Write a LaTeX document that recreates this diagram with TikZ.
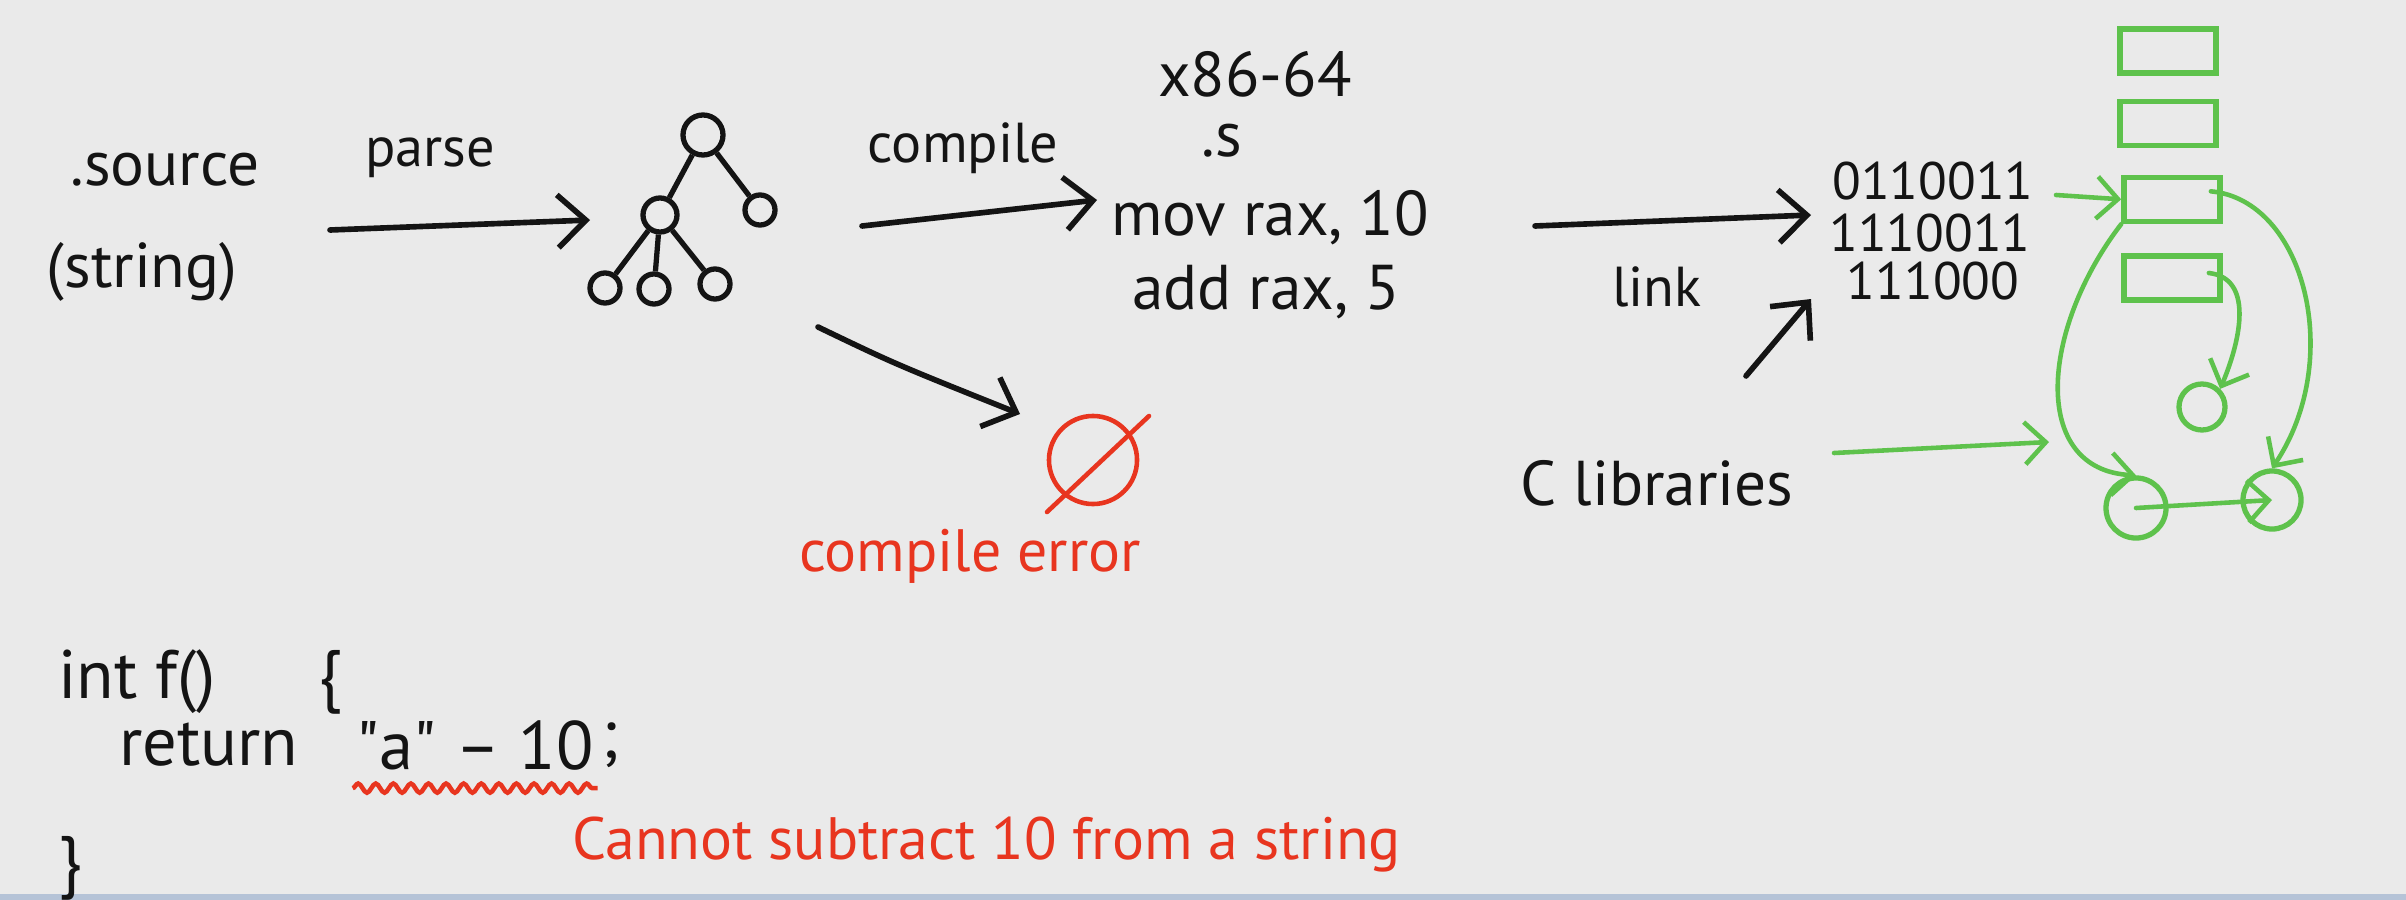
\documentclass[tikz,border=0pt]{standalone}
\usepackage{fontspec}
\setmainfont{PT Sans}
\usetikzlibrary{arrows.meta, positioning, calc, decorations.pathmorphing}
\definecolor{board}{HTML}{EAEAEA}
\definecolor{ink}{HTML}{141414}
\definecolor{redink}{HTML}{E8351F}
\definecolor{greenink}{HTML}{5EC24C}
\definecolor{taskbar}{HTML}{B5C3D7}

\begin{document}
\begin{tikzpicture}[
    x=0.01cm, y=-0.01cm,
    every node/.style={font=\fontsize{18}{22}\selectfont, text=ink, inner sep=1pt},
    lbl/.style={font=\fontsize{16}{19}\selectfont},
    bits/.style={font=\fontsize{15}{18}\selectfont},
    codetxt/.style={font=\fontsize{19.5}{23}\selectfont},
    redtxt/.style={text=redink, font=\fontsize{17}{20}\selectfont},
    tnode/.style={circle, draw=ink, line width=1.5pt, minimum size=0.3cm, inner sep=0pt},
    edge/.style={draw=ink, line width=1.5pt},
    flow/.style={-{Straight Barb[length=8pt, width=15pt, line width=1.6pt]},
        line width=1.6pt, ink, line cap=round},
    gflow/.style={-{Straight Barb[length=6pt, width=12pt, line width=1.3pt]},
        line width=1.3pt, greenink, line cap=round},
    gbox/.style={draw=greenink, line width=1.6pt, minimum width=0.96cm,
        minimum height=0.44cm, inner sep=0pt},
    gcirc/.style={circle, draw=greenink, line width=1.5pt, inner sep=0pt},
]

% ===== Board =====
\fill[board] (0,0) rectangle (2406,900);
\fill[taskbar] (0,894) rectangle (2406,900);
\useasboundingbox (0,0) rectangle (2406,900);

% ===== Source =====
\node (src) at (165,170) {.source};
\node (srcs) at (142,272) {(string)};
\node[lbl] (parselbl) at (430,158) {parse};

% ===== Tree =====
\node[tnode, minimum size=0.4cm] (treeA) at (703,135) {};
\node[tnode, minimum size=0.34cm] (treeB) at (660,215) {};
\node[tnode] (treeC) at (760,210) {};
\node[tnode] (treeD) at (605,288) {};
\node[tnode] (treeE) at (654,289) {};
\node[tnode] (treeF) at (715,284) {};
\draw[edge] (treeA) -- (treeB);
\draw[edge] (treeA) -- (treeC);
\draw[edge] (treeB) -- (treeD);
\draw[edge] (treeB) -- (treeE);
\draw[edge] (treeB) -- (treeF);

\draw[flow] ($(src)+(165,60)$) -- ($(treeB)+(-70,5)$);

% ===== Assembly =====
\node[lbl] (complbl) at (963,148) {compile};
\node (x86) at (1255,74) {x86-64};
\node (dots) at (1222,141) {.s};
\node (mov) at (1270,218) {mov rax, 10};
\node (add) at (1266,292) {add rax, 5};

\draw[flow] ($(treeC)+(102,16)$) -- ($(mov)+(-173,-18)$);

% ===== Compile error =====
\node[circle, draw=redink, line width=1.3pt, minimum size=0.88cm] (nullset) at (1093,460) {};
\draw[redink, line width=1.3pt, line cap=round]
    ($(nullset)+(-46,52)$) -- ($(nullset)+(56,-44)$);
\node[redtxt] (errlbl) at (970,556) {compile error};
\draw[flow] ($(treeF)+(103,43)$) .. controls ($(treeF)+(180,80)$) .. ($(nullset)+(-73,-46)$);

% ===== Link =====
\node[bits] (b1) at (1933,181) {0110011};
\node[bits] (b2) at (1930,233) {1110011};
\node[bits] (b3) at (1933,281) {111000};
\node[lbl] (linklbl) at (1657,287) {link};
\node (clibs) at (1657,483) {C libraries};

\draw[flow] ($(mov)+(265,8)$) -- ($(b2)+(-119,-18)$);
\draw[flow] ($(clibs)+(89,-107)$) -- ($(b3)+(-122,18)$);

% ===== Memory =====
\node[gbox] (box1) at (2168,51) {};
\node[gbox, below=0.23cm of box1] (box2) {};
\node[gbox, below=0.26cm of box2, xshift=0.04cm] (box3) {};
\node[gbox, below=0.29cm of box3] (box4) {};
\node[gcirc, minimum size=0.46cm] (midc) at (2202,407) {};
\node[gcirc, minimum size=0.6cm] (leftc) at (2136,508) {};
\node[gcirc, minimum size=0.58cm] (rightc) at (2272,500) {};
\coordinate (mementry) at (2049,442);

\draw[gflow] ($(b1)+(123,14)$) -- (box3.west);
\draw[gflow] ($(clibs)+(177,-30)$) -- (mementry);
\draw[gflow] ($(box4.east)+(-14,-5)$) .. controls ($(box4.east)+(30,0)$)
    and ($(midc)+(40,-70)$) .. (midc.north east);
\draw[gflow] ($(box3.east)+(-12,-8)$) .. controls (2305,200) and (2345,360) .. (rightc.north);
\draw[gflow] (box3.south west) .. controls (2040,330) and (2030,470) .. (leftc.north);
\draw[gflow] (leftc.center) -- (rightc.center);

% ===== Code =====
\node[codetxt, anchor=west] (sig) at (54,682) {int f()\quad\enspace\{};
\node[codetxt, anchor=west] (ret) at (115,745) {return};
\node[codetxt, right=0.5cm of ret] (expr) {\textquotedbl a\textquotedbl\ -- 10};
\node[codetxt, right=0pt of expr] (semi) {;};
\node[codetxt, anchor=west] (close) at (54,868) {\}};
\draw[redink, line width=1.3pt, decorate,
    decoration={snake, amplitude=1.3pt, segment length=5pt}]
    ([yshift=-4pt]expr.south west) -- ([yshift=-4pt]expr.south east);
\node[redtxt, anchor=west] (errmsg) at (568,845) {Cannot subtract 10 from a string};

\end{tikzpicture}
\end{document}
